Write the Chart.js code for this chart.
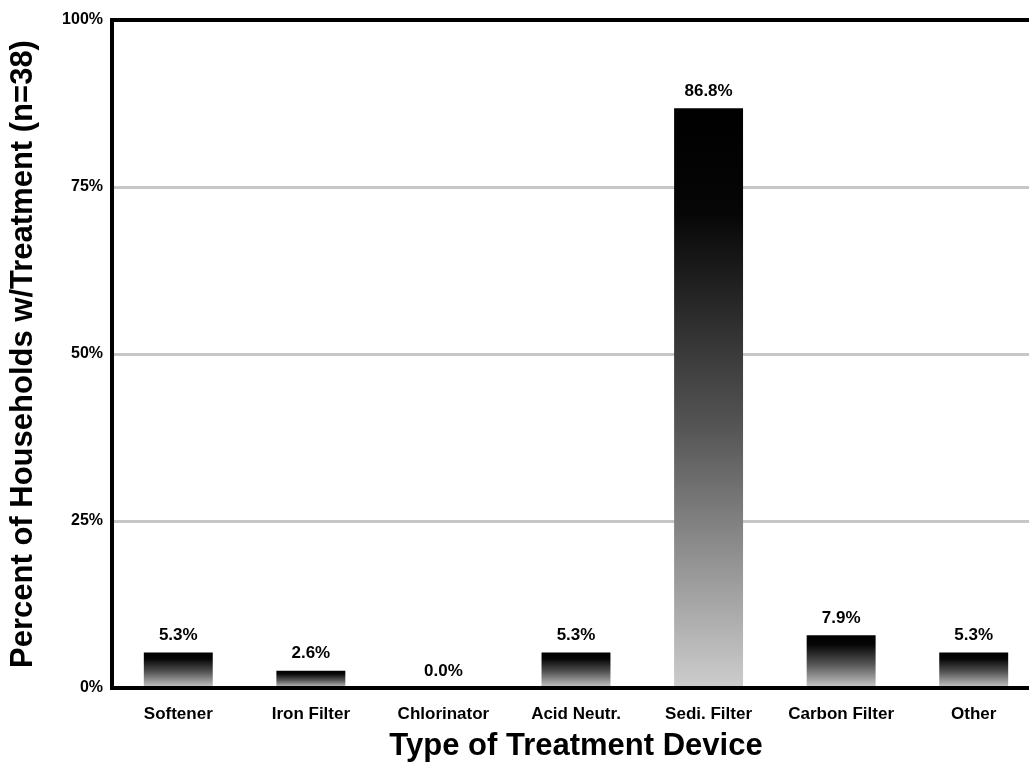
<!DOCTYPE html>
<html lang="en">
<head>
    <meta charset="UTF-8">
    <title>Type of Treatment Device</title>
    <script src="https://cdn.jsdelivr.net/npm/chart.js"></script>
    <style>
        body, html {
            margin: 0;
            padding: 0;
            width: 100%;
            height: 100%;
            overflow: hidden;
            background: #fff;
            font-family: "Liberation Sans", Arial, sans-serif;
        }
        #wrap {
            position: relative;
            width: 1040px;
            height: 775px;
        }
    </style>
</head>
<body>
    <div id="wrap"><canvas id="deviceChart"></canvas></div>

    <script>
        const devices = ["Softener", "Iron Filter", "Chlorinator", "Acid Neutr.", "Sedi. Filter", "Carbon Filter", "Other"];
        const percentHouseholds = [5.3, 2.6, 0.0, 5.3, 86.8, 7.9, 5.3];
        const yTicks = [0, 25, 50, 75, 100];

        const FONT = "'Liberation Sans', Arial, sans-serif";

        // per-bar vertical shading, dark at the top fading to light grey at the base
        function barShade(ctx) {
            const chart = ctx.chart;
            const { chartArea, scales } = chart;
            if (!chartArea || ctx.type !== 'data') return '#444';
            const top = scales.y.getPixelForValue(ctx.raw);
            const bottom = scales.y.getPixelForValue(0);
            if (bottom - top < 1) return '#000';
            const g = chart.ctx.createLinearGradient(0, top, 0, bottom);
            g.addColorStop(0, '#000');
            g.addColorStop(0.18, '#060606');
            g.addColorStop(0.55, '#555');
            g.addColorStop(1, '#cdcdcd');
            return g;
        }

        const valueLabels = {
            id: 'valueLabels',
            afterDatasetsDraw(chart) {
                const c = chart.ctx;
                const meta = chart.getDatasetMeta(0);
                c.save();
                c.fillStyle = '#000';
                c.font = 'bold 17px ' + FONT;
                c.textAlign = 'center';
                c.textBaseline = 'middle';
                meta.data.forEach((bar, i) => {
                    const v = percentHouseholds[i];
                    c.fillText(v.toFixed(1) + '%', bar.x, bar.y - 17);
                });
                c.restore();
            }
        };

        const ctxDevices = document.getElementById('deviceChart').getContext('2d');
        new Chart(ctxDevices, {
            type: 'bar',
            data: {
                labels: devices,
                datasets: [{
                    label: 'Percent of Households',
                    data: percentHouseholds,
                    backgroundColor: barShade,
                    borderWidth: 0,
                    barPercentage: 0.52,
                    categoryPercentage: 1.0
                }]
            },
            options: {
                responsive: true,
                maintainAspectRatio: false,
                animation: false,
                layout: { padding: { top: 20, right: 0, bottom: 0, left: 0 } },
                scales: {
                    x: {
                        grid: { display: false, drawTicks: false },
                        border: { display: true, color: '#000', width: 4 },
                        ticks: { color: '#000', font: { family: FONT, size: 17, weight: 'bold' }, padding: 16 },
                        title: {
                            display: true,
                            text: 'Type of Treatment Device',
                            color: '#000',
                            font: { family: FONT, size: 31, weight: 'bold' },
                            padding: { top: 10, bottom: 10 }
                        },
                        afterFit: (scale) => { scale.height = 87; }
                    },
                    y: {
                        min: 0,
                        max: 100,
                        afterBuildTicks: (scale) => { scale.ticks = yTicks.map(v => ({ value: v })); },
                        grid: {
                            drawTicks: false,
                            color: (c) => (c.tick.value === 100 || c.tick.value === 0) ? '#000' : '#c6c6c6',
                            lineWidth: (c) => (c.tick.value === 100 || c.tick.value === 0) ? 4 : 3
                        },
                        border: { display: true, color: '#000', width: 4 },
                        ticks: {
                            color: '#000',
                            font: { family: FONT, size: 16, weight: 'bold' },
                            padding: 9,
                            callback: (v) => v + '%'
                        },
                        title: {
                            display: true,
                            text: 'Percent of Households w/Treatment (n=38)',
                            color: '#000',
                            font: { family: FONT, size: 31, weight: 'bold' },
                            padding: { top: 5, bottom: 4 }
                        },
                        afterFit: (scale) => { scale.width = 112; }
                    }
                },
                plugins: {
                    legend: { display: false },
                    tooltip: { enabled: false }
                }
            },
            plugins: [valueLabels]
        });
    </script>
</body>
</html>
